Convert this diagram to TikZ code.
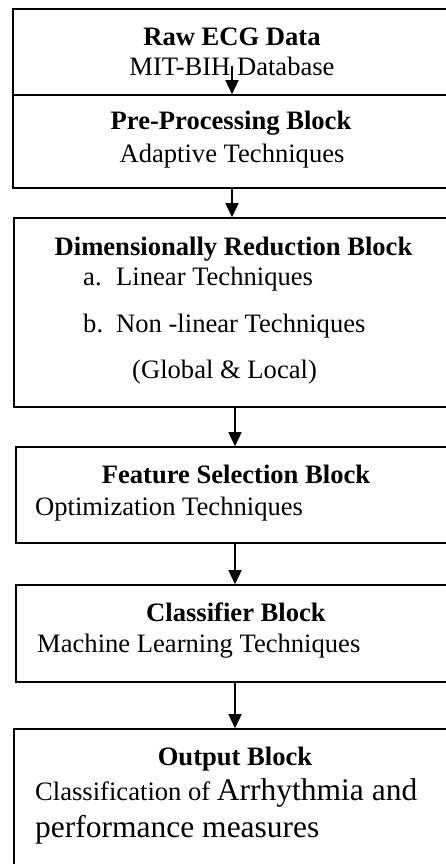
\documentclass[tikz,border=0pt]{standalone}
\usepackage{fontspec}
\setmainfont{Liberation Serif}
\usetikzlibrary{arrows.meta}

\tikzset{
  blk/.style={draw, line width=1.6pt, rectangle, inner sep=0pt, minimum width=500pt},
  txt/.style={inner sep=0pt, anchor=base, font=\fontsize{26.6pt}{32pt}\selectfont},
  lefttxt/.style={txt, anchor=base west},
  flow/.style={line width=1.6pt, -{Triangle[width=13pt,length=14pt]}}
}

\begin{document}
\begin{tikzpicture}[x=1pt,y=-1pt]
    \useasboundingbox (0,0) rectangle (446,864);
    \clip (0,0) rectangle (446,864);

    % Blocks, 500pt wide so the right edges run off the page
    \node[blk, minimum height=86pt] (raw) at (263,52) {};
    \node[blk, minimum height=93pt] (pre) at (263,141.5) {};
    \node[blk, minimum height=189pt] (dimred) at (264,312.5) {};
    \node[blk, minimum height=96pt] (feat) at (266,495) {};
    \node[blk, minimum height=97pt] (clf) at (266,633.5) {};
    \node[blk, minimum height=171pt] (out) at (264,814.5) {};

    % Block texts
    \node[txt] (rawT) at (232,45.7) {\textbf{Raw ECG Data}};
    \node[txt] (rawS) at (232,76) {MIT-BIH Database};

    \node[txt] (preT) at (231,130) {\textbf{Pre-Processing Block}};
    \node[txt] (preS) at (232,162) {Adaptive Techniques};

    \node[txt] (dimT) at (233.5,255) {\textbf{Dimensionally Reduction Block}};
    \node[lefttxt] (dimA) at (83,285) {\makebox[33pt][l]{a.}Linear Techniques};
    \node[lefttxt] (dimB) at (83,332) {\makebox[33pt][l]{b.}Non -linear Techniques};
    \node[lefttxt] (dimC) at (132,378) {(Global \& Local)};

    \node[txt] (featT) at (236,483) {\textbf{Feature Selection Block}};
    \node[lefttxt] (featS) at (35,515) {Optimization Techniques};

    \node[txt] (clfT) at (236,621) {\textbf{Classifier Block}};
    \node[lefttxt] (clfS) at (37,652) {Machine Learning Techniques};

    \node[txt] (outT) at (235,765) {\textbf{Output Block}};
    \node[lefttxt] (outA) at (35,800) {Classification of {\fontsize{31.5pt}{36pt}\selectfont Arrhythmia and}};
    \node[lefttxt, font=\fontsize{31.5pt}{36pt}\selectfont] (outB) at (35,837) {performance measures};

    % Arrow columns and the start of the first arrow
    \coordinate (colA) at (232,0);
    \coordinate (colB) at (235,0);
    \coordinate (rawArr) at (232,66);

    % Arrows between blocks
    \draw[flow] (rawArr) -- (pre.north -| colA);
    \draw[flow] (pre.south -| colA) -- (dimred.north -| colA);
    \draw[flow] (dimred.south -| colB) -- (feat.north -| colB);
    \draw[flow] (feat.south -| colB) -- (clf.north -| colB);
    \draw[flow] (clf.south -| colB) -- (out.north -| colB);
\end{tikzpicture}
\end{document}
